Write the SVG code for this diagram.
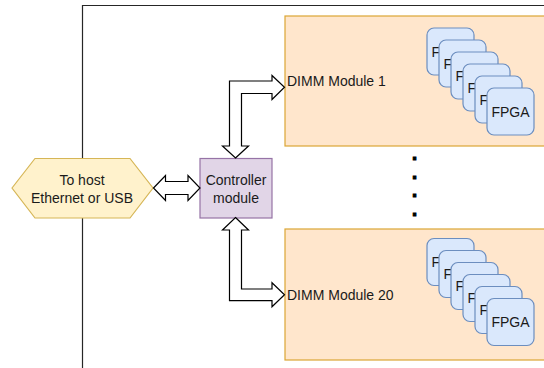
<svg xmlns="http://www.w3.org/2000/svg" width="544" height="368" viewBox="0 0 544 368">
  <defs>
    <style>
      text { font-family: "Liberation Sans", Arial, Helvetica, sans-serif; font-size: 14px; fill: #1a1a1a; }
      .mid { text-anchor: middle; }
      .frame { fill: none; stroke: #262626; stroke-width: 1.2; }
      .dimm { fill: #ffe6cc; stroke: #dba634; stroke-width: 1.2; }
      .fpga { fill: #dae8fc; stroke: #6c8ebf; stroke-width: 1.2; }
      .ctrl { fill: #e1d5e7; stroke: #9673a6; stroke-width: 1.2; }
      .host { fill: #fff2cc; stroke: #d6b656; stroke-width: 1.2; }
      .flex { fill: #ffffff; stroke: #000000; stroke-width: 1.2; stroke-linejoin: miter; }
      .dots { font-family: "DejaVu Sans", "Liberation Sans", sans-serif; font-weight: bold; font-size: 16px; fill: #000000; stroke: #000000; stroke-width: 0.9; text-anchor: middle; }
    </style>
    <!-- one FPGA card: rounded tile with its label -->
    <g id="card">
      <rect class="fpga" x="0" y="0" width="47" height="47" rx="7" ry="7"/>
      <text class="mid" x="23.5" y="28.5">FPGA</text>
    </g>
  </defs>

  <rect width="544" height="368" fill="#ffffff"/>

  <!-- board outline -->
  <path class="frame" d="M82.5,368 V5.5 H545"/>

  <!-- DIMM module 1 -->
  <g id="dimm1">
    <rect class="dimm" x="285" y="16" width="270" height="130"/>
    <text x="287" y="86">DIMM Module 1</text>
    <g id="dimm1-fpgas">
      <use href="#card" x="427" y="28"/>
      <use href="#card" x="439" y="40"/>
      <use href="#card" x="451" y="52"/>
      <use href="#card" x="463" y="64"/>
      <use href="#card" x="475" y="76"/>
      <use href="#card" x="487" y="88"/>
    </g>
  </g>

  <!-- DIMM module 20 -->
  <g id="dimm20">
    <rect class="dimm" x="285" y="229" width="270" height="131"/>
    <text x="287" y="299.5">DIMM Module 20</text>
    <g id="dimm20-fpgas">
      <use href="#card" x="427" y="238.5"/>
      <use href="#card" x="439" y="250.5"/>
      <use href="#card" x="451" y="262.5"/>
      <use href="#card" x="463" y="274.5"/>
      <use href="#card" x="475" y="286.5"/>
      <use href="#card" x="487" y="298.5"/>
    </g>
  </g>

  <!-- vertical ellipsis between modules -->
  <g id="ellipsis">
    <text class="dots" x="414.5" y="159.8">.</text>
    <text class="dots" x="414.5" y="178.6">.</text>
    <text class="dots" x="414.5" y="197.4">.</text>
    <text class="dots" x="414.5" y="216.2">.</text>
  </g>

  <!-- host link -->
  <g id="host">
    <polygon class="host" points="12,188 35,158.5 130,158.5 153,188 130,218 35,218"/>
    <text class="mid" x="82" y="184.5">To host</text>
    <text class="mid" x="82" y="202.5">Ethernet or USB</text>
  </g>

  <!-- controller -->
  <g id="controller">
    <rect class="ctrl" x="200" y="158.5" width="72" height="59.5"/>
    <text class="mid" x="236" y="184.5">Controller</text>
    <text class="mid" x="236" y="202.5">module</text>
  </g>

  <!-- bidirectional buses -->
  <g id="connectors">
    <polygon class="flex" points="153.5,188 165.5,175.5 165.5,181.5 188,181.5 188,175.5 200,188 188,200.5 188,194.5 165.5,194.5 165.5,200.5"/>
    <polygon class="flex" points="235.5,158 248.5,146 241.5,146 241.5,93.5 272,93.5 272,99.5 284.5,87.3 272,75.5 272,81 229.5,81 229.5,146 222.5,146"/>
    <polygon class="flex" points="235.5,217.5 248.5,230 241.5,230 241.5,289 272,289 272,282.7 284.5,294.8 272,306.8 272,300.7 229.5,300.7 229.5,230 222.5,230"/>
  </g>
</svg>
